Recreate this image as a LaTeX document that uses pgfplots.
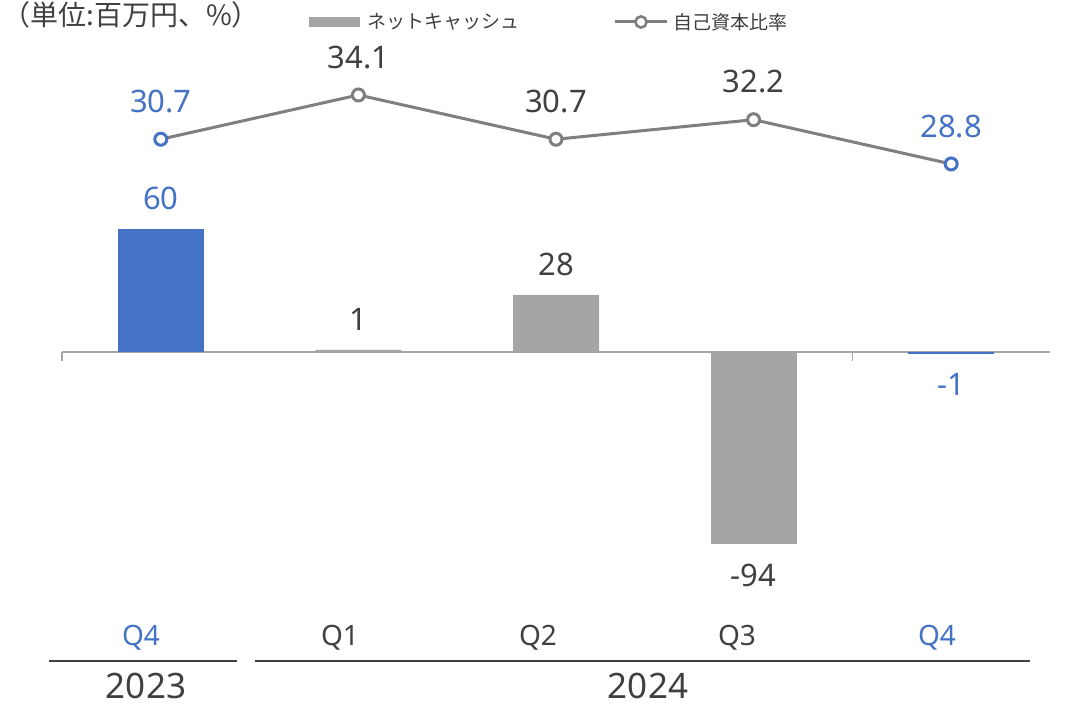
\documentclass[border=0pt]{standalone}
\usepackage{pgfplots}
\pgfplotsset{compat=1.18}
\usepackage{fontspec}
\setmainfont{Noto Sans}
\newfontfamily\jp{Noto Sans CJK JP}
\definecolor{cblue}{HTML}{4472C4}
\definecolor{cgray}{HTML}{A5A5A5}
\definecolor{cline}{HTML}{7F7F7F}
\definecolor{ctext}{HTML}{404040}
\definecolor{caxis}{HTML}{A6A6A6}
\pgfplotsset{
  posbar/.style={ybar, bar width=43pt, bar shift=0pt, draw=none,
    point meta=explicit symbolic, nodes near coords={\pgfplotspointmeta},
    every node near coord/.append style={anchor=south, font=\fontsize{15.5}{18}\selectfont, inner xsep=0pt, inner ysep=9.5pt}},
  negbar/.style={ybar, bar width=43pt, bar shift=0pt, draw=none,
    point meta=explicit symbolic, nodes near coords={\pgfplotspointmeta},
    every node near coord/.append style={anchor=north, font=\fontsize{15.5}{18}\selectfont, inner xsep=0pt, inner ysep=9.5pt}},
}
\begin{document}
\begin{tikzpicture}
\useasboundingbox (0,0) rectangle (533pt,355.5pt);
% bars axis
\begin{axis}[
  at={(31pt,55.5pt)}, anchor=south west,
  width=494pt, height=290pt, scale only axis,
  xmin=-0.5, xmax=4.5, ymin=-121.2, ymax=162.3,
  hide axis, clip=false,
]
\addplot[caxis, line width=0.7pt, no marks] coordinates {(-0.5,0) (4.5,0)};
\draw[caxis, line width=0.7pt] (axis cs:-0.5,0) -- ++(0pt,-4.5pt);
\draw[caxis, line width=0.7pt] (axis cs:3.5,0) -- ++(0pt,-4.5pt);
\addplot[posbar, fill=cgray, every node near coord/.append style={text=ctext}]
  coordinates {(1,1) [1] (2,28) [28]};
\addplot[negbar, fill=cgray, every node near coord/.append style={text=ctext}]
  coordinates {(3,-94) [-94]};
\addplot[posbar, fill=cblue, every node near coord/.append style={text=cblue}]
  coordinates {(0,60) [60]};
\addplot[negbar, fill=cblue, every node near coord/.append style={text=cblue}]
  coordinates {(4,-1) [-1]};
\end{axis}
% ratio axis
\begin{axis}[
  at={(31pt,55.5pt)}, anchor=south west,
  width=494pt, height=290pt, scale only axis,
  xmin=-0.5, xmax=4.5, ymin=-4.69, ymax=39.86,
  hide axis, clip=false,
]
\addplot[cline, line width=1.5pt, no marks] coordinates {(0,30.7) (1,34.1) (2,30.7) (3,32.2) (4,28.8)};
\addplot[only marks, mark=*, mark size=3pt, mark options={draw=cline, fill=white, line width=1.5pt},
  point meta=explicit symbolic, nodes near coords={\pgfplotspointmeta},
  every node near coord/.append style={text=ctext, anchor=south, inner sep=0pt, yshift=12.5pt, font=\fontsize{15.5}{18}\selectfont}]
  coordinates {(1,34.1) [34.1] (2,30.7) [30.7] (3,32.2) [32.2]};
\addplot[only marks, mark=*, mark size=3pt, mark options={draw=cblue, fill=white, line width=1.5pt},
  point meta=explicit symbolic, nodes near coords={\pgfplotspointmeta},
  every node near coord/.append style={text=cblue, anchor=south, inner sep=0pt, yshift=12.5pt, font=\fontsize{15.5}{18}\selectfont}]
  coordinates {(0,30.7) [30.7] (4,28.8) [28.8]};
\end{axis}
% decorations in pixel coordinates
\begin{scope}[x=0.5pt, y=-0.5pt, shift={(0pt,355.5pt)}]
\node[anchor=base west, font=\jp\fontsize{14}{16}\selectfont, text=ctext, inner sep=0pt] at (2,26) {（単位:百万円、\%）};
\fill[cgray] (309,17.5) rectangle (360,27);
\node[anchor=west, font=\jp\fontsize{9.5}{11}\selectfont, text=ctext, inner sep=0pt] at (367,22) {ネットキャッシュ};
\draw[cline, line width=1.5pt] (615,22) -- (667,22);
\draw[cline, line width=1.3pt, fill=white] (641,22) circle (2.8pt);
\node[anchor=west, font=\jp\fontsize{9.5}{11}\selectfont, text=ctext, inner sep=0pt] at (673,22) {自己資本比率};
\node[font=\fontsize{14}{16}\selectfont, text=cblue] at (141,638) {Q4};
\node[font=\fontsize{14}{16}\selectfont, text=ctext] at (340,638) {Q1};
\node[font=\fontsize{14}{16}\selectfont, text=ctext] at (538,638) {Q2};
\node[font=\fontsize{14}{16}\selectfont, text=ctext] at (737,638) {Q3};
\node[font=\fontsize{14}{16}\selectfont, text=cblue] at (937,638) {Q4};
\draw[ctext, line width=0.7pt] (49,661) -- (237,661);
\draw[ctext, line width=0.7pt] (255,661) -- (1030,661);
\node[font=\fontsize{17.5}{20}\selectfont, text=ctext] at (146,686) {2023};
\node[font=\fontsize{17.5}{20}\selectfont, text=ctext] at (648,686) {2024};
\end{scope}
\end{tikzpicture}
\end{document}
